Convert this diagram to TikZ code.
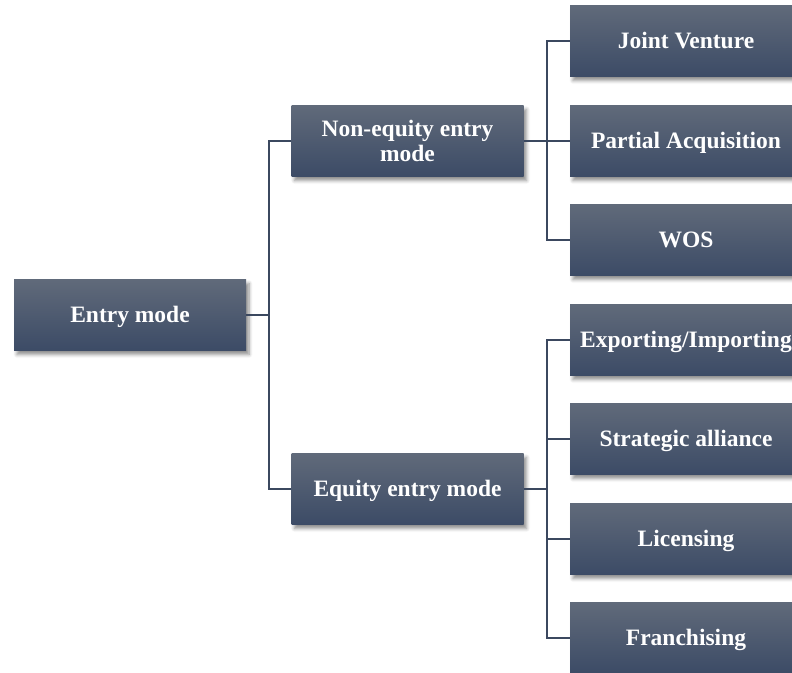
\documentclass[tikz,border=0pt]{standalone}
\usepackage{fontspec}
\setmainfont{Liberation Serif}
\usetikzlibrary{shadows.blur}
\definecolor{boxtop}{RGB}{96,106,122}
\definecolor{boxbot}{RGB}{60,75,102}
\definecolor{linecol}{RGB}{59,72,95}
\tikzset{
  box/.style={rectangle, minimum width=232pt, minimum height=71pt, inner sep=0pt,
    top color=boxtop, bottom color=boxbot, draw=none, text=white, align=center,
    font=\fontsize{23.5}{25}\selectfont\bfseries,
    blur shadow={shadow xshift=3pt, shadow yshift=-4pt, shadow blur steps=6, shadow opacity=45, shadow blur radius=3.5pt}},
  onebox/.style={box, text height=20pt, text depth=5pt},
  conn/.style={draw=linecol, line width=2pt}
}
\begin{document}
\begin{tikzpicture}[x=1pt,y=-1pt]
\begin{scope}
\clip (0,0) rectangle (792,672);
\node[onebox] (entry) at (130,315) {Entry mode};
\node[box] (noneq) at (407.5,141) {Non-equity entry\\mode};
\node[onebox] (eq) at (407.5,489) {Equity entry mode};
\node[onebox] (jv) at (686,41) {Joint Venture};
\node[onebox] (pa) at (686,141) {Partial Acquisition};
\node[onebox] (wos) at (686,240) {WOS};
\node[onebox] (exp) at (686,340) {Exporting/Importing};
\node[onebox] (sa) at (686,439) {Strategic alliance};
\node[onebox] (lic) at (686,539) {Licensing};
\node[onebox] (fr) at (686,638) {Franchising};
\coordinate (j1) at (269,315);
\coordinate (j2) at (547,141);
\coordinate (j3) at (547,489);
\draw[conn] (entry.east) -- (j1) |- (noneq.west);
\draw[conn] (j1) |- (eq.west);
\draw[conn] (noneq.east) -- (j2) |- (jv.west);
\draw[conn] (j2) -- (pa.west);
\draw[conn] (j2) |- (wos.west);
\draw[conn] (eq.east) -- (j3) |- (exp.west);
\draw[conn] (j3) |- (sa.west);
\draw[conn] (j3) |- (lic.west);
\draw[conn] (j3) |- (fr.west);
\end{scope}
\pgfresetboundingbox
\useasboundingbox (0,0) rectangle (792,672);
\end{tikzpicture}
\end{document}
